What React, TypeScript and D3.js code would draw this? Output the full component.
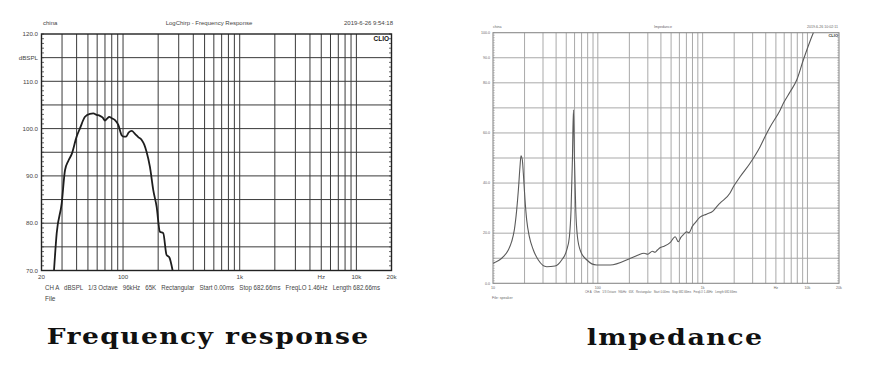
import React from "react";
import * as d3 from "d3";

// ---------- Data: Frequency response (left) ----------
const frFreq = [25.6, 27, 29.8, 31.8, 34, 36.3, 40, 42.8, 47.2, 52, 55.6, 59.4, 63.4, 67, 70, 73, 76.2, 80, 85.3, 91, 97.3, 101, 106, 112, 118.6, 126.6, 135, 144.5, 152, 159, 170, 181.6, 194, 207, 221, 236, 249, 266];
const frSpl = [70, 77.9, 84.2, 91.2, 93.2, 94.6, 98.3, 100.1, 102.5, 103.1, 103.2, 102.9, 102.7, 102.3, 101.7, 102.1, 102.5, 102.2, 101.8, 100.8, 98.6, 98.3, 98.3, 99.2, 99.5, 98.9, 98.2, 97.6, 96.6, 95.1, 91.9, 87, 83.5, 78.2, 77.9, 73.3, 72.8, 70];
const frXLabels = ["20", "100", "1k", "Hz", "10k", "20k"];
const frXLabelFreqs = [20, 100, 1000, 5000, 10000, 20000];
const frYLabels = ["120.0", "dBSPL", "110.0", "100.0", "90.0", "80.0", "70.0"];
const frYLabelVals = [120, 115, 110, 100, 90, 80, 70];
const frHeader = ["china", "LogChirp - Frequency Response", "2019-6-26 9:54:18"];
const frFooter = "CH A   dBSPL   1/3 Octave   96kHz   65K   Rectangular   Start 0.00ms   Stop 682.66ms   FreqLO 1.46Hz   Length 682.66ms";

// ---------- Data: Impedance (right) ----------
const imFreq = [10, 12.55, 14.0, 15.06, 15.98, 16.83, 17.46, 18.09, 18.49, 19.05, 19.47, 20.21, 20.96, 22.22, 24.26, 27.07, 32.56, 39.06, 45.23, 50.54, 53.57, 55.55, 57.22, 58.51, 59.87, 61.6, 63.9, 68.8, 78.7, 97.6, 131.3, 205, 240, 276, 300, 332, 350, 371, 392, 430, 489, 547, 586, 620, 652, 705, 740, 800, 843, 944, 1089, 1262, 1364, 1457, 1820, 1965, 2276, 2834, 3536, 4090, 4415, 5500, 5890, 6860, 7900, 9130, 11380, 12500];
const imOhm = [8.0, 10.6, 13.3, 16.6, 21.3, 29.3, 37.2, 46.5, 50.9, 49.2, 43.9, 33.2, 25.3, 18.6, 13.3, 9.3, 6.6, 6.9, 9.3, 13.3, 18.6, 29.3, 49.2, 69.2, 49.2, 29.3, 18.6, 12.6, 9.3, 7.3, 7.3, 10, 11.2, 12, 11.6, 12.8, 12.4, 13.3, 14.2, 14.8, 16.2, 18.6, 16.6, 18.3, 19.3, 20.6, 20.2, 22.8, 24.0, 26.4, 27.6, 28.9, 30.6, 31.9, 35.9, 38.5, 42.5, 47.9, 54.5, 59.9, 62.5, 69.2, 71.8, 76.5, 81.1, 89.1, 100, 104];
const imXLabels = ["10", "100", "1k", "Hz", "10k", "20k"];
const imXLabelFreqs = [10, 100, 1000, 5000, 10000, 20000];
const imYLabels = ["100.0", "90.0", "80.0", "60.0", "40.0", "20.0", "0.0"];
const imYLabelVals = [100, 90, 80, 60, 40, 20, 0];
const imHeader = ["china", "Impedance", "2019-6-26 10:02:11"];
const imFooter = "CH A   Ohm   1/3 Octave   96kHz   65K   Rectangular   Start 0.00ms   Stop 682.66ms   FreqLO 1.46Hz   Length 682.66ms";

const captions = ["Frequency response", "lmpedance"];

const SANS = "'Liberation Sans', Arial, sans-serif";
const SERIF = "'DejaVu Serif', serif";

export default function App() {
  const xL = d3.scaleLog().domain([20, 20000]).range([41.5, 391.5]);
  const yL = d3.scaleLinear().domain([70, 120]).range([270.5, 34]);
  const xR = d3.scaleLog().domain([10, 20000]).range([493, 839]);
  const yR = d3.scaleLinear().domain([0, 100]).range([283.3, 32.7]);

  const lineL = d3
    .line<number>()
    .x((_, i) => xL(frFreq[i]))
    .y((d) => yL(d))
    .curve(d3.curveMonotoneX);
  const lineR = d3
    .line<number>()
    .x((_, i) => xR(imFreq[i]))
    .y((d) => yR(d))
    .curve(d3.curveMonotoneX);

  const gridFL = xL.ticks().filter((f) => f > 20 && f < 20000);
  const gridFR = xR.ticks().filter((f) => f > 10 && f < 20000);
  const gridYL = d3.range(75, 120, 5);
  const minorYL = d3.range(70, 121, 1);
  const gridYR = d3.range(10, 100, 10);
  const minorYR = d3.range(0, 101, 1);

  const [x0L, x1L] = xL.range();
  const [y0L, y1L] = yL.range();
  const [x0R, x1R] = xR.range();
  const [y0R, y1R] = yR.range();

  return (
    <svg width={871} height={365} style={{ position: "absolute", left: 0, top: 0, background: "#fff" }}>
      <defs>
        <clipPath id="clipL">
          <rect x={x0L} y={y1L} width={x1L - x0L} height={y0L - y1L} />
        </clipPath>
        <clipPath id="clipR">
          <rect x={x0R} y={y1R} width={x1R - x0R} height={y0R - y1R} />
        </clipPath>
      </defs>

      {/* ---------- LEFT CHART ---------- */}
      <g>
        {gridFL.map((f) => (
          <line key={"vl" + f} x1={xL(f)} x2={xL(f)} y1={y1L} y2={y0L} stroke="#3a3a3a" strokeWidth={1} />
        ))}
        {gridYL.map((v) => (
          <line key={"hl" + v} x1={x0L} x2={x1L} y1={yL(v)} y2={yL(v)} stroke="#3a3a3a" strokeWidth={1} />
        ))}
        {minorYL.map((v) => (
          <g key={"ml" + v}>
            <line x1={x0L} x2={x0L + 2.5} y1={yL(v)} y2={yL(v)} stroke="#444" strokeWidth={0.8} />
            <line x1={x1L - 2.5} x2={x1L} y1={yL(v)} y2={yL(v)} stroke="#444" strokeWidth={0.8} />
          </g>
        ))}
        <rect x={x0L} y={y1L} width={x1L - x0L} height={y0L - y1L} fill="none" stroke="#222" strokeWidth={1.4} />
        <path d={lineL(frSpl) || ""} fill="none" stroke="#1e1e1e" strokeWidth={1.8} clipPath="url(#clipL)" />
        <text x={389} y={41} textAnchor="end" fontFamily={SANS} fontSize={6.5} fontWeight="bold" fill="#111">CLIO</text>

        {frYLabels.map((t, i) => (
          <text key={"yl" + t} x={38} y={yL(frYLabelVals[i]) + 2.2} textAnchor="end" fontFamily={SANS} fontSize={6.2} fill="#444">{t}</text>
        ))}
        {frXLabels.map((t, i) => (
          <text key={"xl" + t} x={xL(frXLabelFreqs[i])} y={279} textAnchor="middle" fontFamily={SANS} fontSize={6.2} fill="#444">{t}</text>
        ))}
        <text x={43} y={25} fontFamily={SANS} fontSize={6} fill="#444">{frHeader[0]}</text>
        <text x={209} y={25} textAnchor="middle" fontFamily={SANS} fontSize={6} fill="#444">{frHeader[1]}</text>
        <text x={393} y={25} textAnchor="end" fontFamily={SANS} fontSize={6} fill="#444">{frHeader[2]}</text>
        <text x={45} y={290} fontFamily={SANS} fontSize={6.5} fill="#444" textLength={335} lengthAdjust="spacingAndGlyphs" style={{ whiteSpace: "pre" }}>{frFooter}</text>
        <text x={45} y={300.5} fontFamily={SANS} fontSize={6.5} fill="#444">File</text>
      </g>

      {/* ---------- RIGHT CHART ---------- */}
      <g>
        {gridFR.map((f) => (
          <line key={"vr" + f} x1={xR(f)} x2={xR(f)} y1={y1R} y2={y0R} stroke="#a9a9a9" strokeWidth={1} />
        ))}
        {gridYR.map((v) => (
          <line key={"hr" + v} x1={x0R} x2={x1R} y1={yR(v)} y2={yR(v)} stroke="#a9a9a9" strokeWidth={1} />
        ))}
        {minorYR.map((v) => (
          <g key={"mr" + v}>
            <line x1={x0R} x2={x0R + 1.8} y1={yR(v)} y2={yR(v)} stroke="#999" strokeWidth={0.6} />
            <line x1={x1R - 1.8} x2={x1R} y1={yR(v)} y2={yR(v)} stroke="#999" strokeWidth={0.6} />
          </g>
        ))}
        <rect x={x0R} y={y1R} width={x1R - x0R} height={y0R - y1R} fill="none" stroke="#8a8a8a" strokeWidth={1.1} />
        <path d={lineR(imOhm) || ""} fill="none" stroke="#5a5a5a" strokeWidth={1.1} clipPath="url(#clipR)" />
        <text x={838} y={37} textAnchor="end" fontFamily={SANS} fontSize={4} fontWeight="bold" fill="#333">CLIO</text>

        {imYLabels.map((t, i) => (
          <text key={"yr" + t} x={490} y={yR(imYLabelVals[i]) + 1.3} textAnchor="end" fontFamily={SANS} fontSize={3.6} fill="#666">{t}</text>
        ))}
        {imXLabels.map((t, i) => (
          <text key={"xr" + t} x={xR(imXLabelFreqs[i])} y={288.5} textAnchor="middle" fontFamily={SANS} fontSize={3.6} fill="#666">{t}</text>
        ))}
        <text x={493} y={28} fontFamily={SANS} fontSize={3.6} fill="#666">{imHeader[0]}</text>
        <text x={663} y={28} textAnchor="middle" fontFamily={SANS} fontSize={3.6} fill="#666">{imHeader[1]}</text>
        <text x={838} y={28} textAnchor="end" fontFamily={SANS} fontSize={3.6} fill="#666">{imHeader[2]}</text>
        <text x={585} y={293} fontFamily={SANS} fontSize={3.6} fill="#666" textLength={152} lengthAdjust="spacingAndGlyphs" style={{ whiteSpace: "pre" }}>{imFooter}</text>
        <text x={492} y={298.5} fontFamily={SANS} fontSize={3.6} fill="#666">File: speaker</text>
      </g>

      {/* ---------- CAPTIONS ---------- */}
      <text x={46.7} y={344} fontFamily={SERIF} fontWeight="bold" fontSize={22} letterSpacing={1.2} fill="#111" textLength={323} lengthAdjust="spacingAndGlyphs">{captions[0]}</text>
      <text x={586.7} y={345} fontFamily={SERIF} fontWeight="bold" fontSize={22} letterSpacing={1.2} fill="#111" textLength={177} lengthAdjust="spacingAndGlyphs">{captions[1]}</text>
    </svg>
  );
}
